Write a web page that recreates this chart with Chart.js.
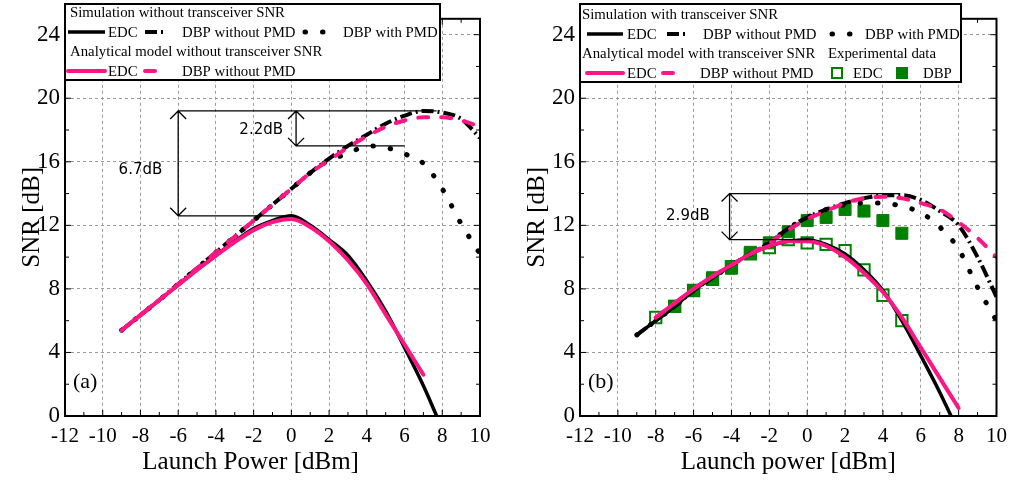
<!DOCTYPE html>
<html>
<head>
<meta charset="utf-8">
<script src="https://cdn.jsdelivr.net/npm/chart.js"></script>
<style>
  body { margin: 0; background: #fff; }
  #wrapA { position: absolute; left: 0; top: 0; width: 505px; height: 481px; }
  #wrapB { position: absolute; left: 505px; top: 0; width: 510px; height: 481px; }
</style>
</head>
<body>
<div id="wrapA"><canvas id="chartA" width="505" height="481"></canvas></div>
<div id="wrapB"><canvas id="chartB" width="510" height="481"></canvas></div>
<script>
// ---- (a) without transceiver SNR ----
const xEdcSimA = [-9, -8, -7, -6, -5, -4, -3, -2, -1, 0, 1, 2, 3, 4, 5, 6, 7, 7.7];
const yEdcSimA = [5.4, 6.35, 7.3, 8.25, 9.2, 10.1, 11.0, 11.8, 12.3, 12.6, 12.0, 11.1, 10.1, 8.5, 6.6, 4.3, 1.9, 0];
const xDbpSimA = [-9, -8, -7, -6, -5, -4, -3, -2, -1, 0, 1, 2, 3, 4, 5, 6, 7, 8, 9, 10];
const yDbpSimA = [5.4, 6.35, 7.3, 8.3, 9.3, 10.3, 11.3, 12.3, 13.3, 14.3, 15.3, 16.2, 17.0, 17.7, 18.4, 18.9, 19.2, 19.1, 18.7, 17.5];
const yDbpPmdSimA = [5.4, 6.35, 7.3, 8.3, 9.3, 10.3, 11.3, 12.3, 13.3, 14.3, 15.3, 16.1, 16.5, 17.0, 16.9, 16.5, 15.9, 14.3, 12.1, 10.2];
const xEdcModA = [-9, -8, -7, -6, -5, -4, -3, -2, -1, 0, 1, 2, 3, 4, 5, 6, 7];
const yEdcModA = [5.4, 6.35, 7.3, 8.25, 9.2, 10.1, 10.95, 11.7, 12.2, 12.4, 11.9, 11.0, 9.8, 8.3, 6.4, 4.5, 2.6];
const yDbpModA = [5.4, 6.35, 7.3, 8.3, 9.3, 10.3, 11.3, 12.3, 13.3, 14.3, 15.3, 16.1, 16.9, 17.6, 18.2, 18.6, 18.8, 18.8, 18.6, 18.2];

// ---- (b) with transceiver SNR ----
const xEdcSimB = [-9, -8, -7, -6, -5, -4, -3, -2, -1, 0, 1, 2, 3, 4, 5, 6, 7, 7.6];
const yEdcSimB = [5.1, 6.0, 6.9, 7.9, 8.7, 9.5, 10.2, 10.7, 11.0, 11.1, 10.8, 10.2, 9.2, 7.9, 6.0, 3.8, 1.5, 0];
const xDbpSimB = [-9, -8, -7, -6, -5, -4, -3, -2, -1, 0, 1, 2, 3, 4, 5, 6, 7, 8, 9, 10];
const yDbpSimB = [5.1, 6.0, 6.9, 7.9, 8.7, 9.5, 10.2, 10.9, 11.8, 12.5, 13.0, 13.4, 13.7, 13.9, 13.9, 13.6, 12.9, 12.0, 10.0, 7.5];
const yDbpPmdSimB = [5.1, 6.0, 6.9, 7.9, 8.7, 9.5, 10.2, 10.9, 11.8, 12.5, 13.0, 13.3, 13.4, 13.4, 13.2, 12.8, 11.9, 10.5, 8.1, 6.0];
const xEdcModB = [-8, -7, -6, -5, -4, -3, -2, -1, 0, 1, 2, 3, 4, 5, 6, 7, 8];
const yEdcModB = [6.2, 7.1, 8.0, 8.8, 9.5, 10.2, 10.7, 11.0, 11.0, 10.7, 10.0, 9.0, 7.8, 6.2, 4.3, 2.4, 0.5];
const xDbpModB = [-8, -7, -6, -5, -4, -3, -2, -1, 0, 1, 2, 3, 4, 5, 6, 7, 8, 9, 10];
const yDbpModB = [6.2, 7.1, 8.0, 8.8, 9.5, 10.2, 10.9, 11.7, 12.4, 12.9, 13.4, 13.7, 13.8, 13.7, 13.4, 13.0, 12.2, 11.2, 10.0];
const xExpEdc = [-8, -7, -6, -5, -4, -3, -2, -1, 0, 1, 2, 3, 4, 5];
const yExpEdc = [6.2, 6.9, 7.9, 8.6, 9.4, 10.2, 10.6, 11.1, 10.9, 10.8, 10.4, 9.2, 7.6, 6.0];
const xExpDbp = [-7, -6, -5, -4, -3, -2, -1, 0, 1, 2, 3, 4, 5];
const yExpDbp = [6.9, 7.9, 8.7, 9.3, 10.3, 10.9, 11.6, 12.3, 12.5, 13.0, 12.9, 12.3, 11.5];

// axes
const xTicks = [-12, -10, -8, -6, -4, -2, 0, 2, 4, 6, 8, 10];
const yTicks = [0, 4, 8, 12, 16, 20, 24];

// gap annotations: [x1, x2, y] lines, [x, yLow, yHigh] arrows, [x, y, text] labels
const gapLinesA = [[-6, 7.7, 19.2], [-6, 0, 12.6], [0.25, 6, 17.0]];
const gapArrowsA = [[-6, 12.6, 19.2], [0.25, 17.0, 19.2]];
const gapLabelsA = [[-8, 15.5, '6.7dB'], [-1.6, 18.0, '2.2dB']];
const gapLinesB = [[-4.1, 4.9, 14.0], [-4.1, 0.3, 11.1]];
const gapArrowsB = [[-4.1, 11.1, 14.0]];
const gapLabelsB = [[-6.3, 12.6, '2.9dB']];

const serif = '"Liberation Serif", "Times New Roman", serif';
const PINK = '#ff1685';
const GREEN = '#008000';

function pts(xs, ys) {
    return xs.map((x, i) => ({ x: x, y: ys[i] }));
}

function lineSet(label, xs, ys, color, width, dash, cap) {
    return {
        label: label,
        data: pts(xs, ys),
        showLine: true,
        borderColor: color,
        backgroundColor: color,
        borderWidth: width,
        borderDash: dash || [],
        borderCapStyle: cap || 'butt',
        pointRadius: 0,
        cubicInterpolationMode: 'monotone',
        fill: false
    };
}

// frame + inward ticks on all four sides
const framePlugin = {
    id: 'frame',
    afterDatasetsDraw(chart) {
        const ctx = chart.ctx, a = chart.chartArea;
        const x = chart.scales.x, y = chart.scales.y;
        ctx.save();
        ctx.strokeStyle = '#000';
        ctx.lineWidth = 1;
        ctx.beginPath();
        for (let v = -12; v <= 10; v++) {
            const px = x.getPixelForValue(v);
            const len = v % 2 === 0 ? 6 : 4;
            ctx.moveTo(px, a.bottom); ctx.lineTo(px, a.bottom - len);
            ctx.moveTo(px, a.top); ctx.lineTo(px, a.top + len);
        }
        for (let v = 0; v <= 24; v += 2) {
            const py = y.getPixelForValue(v);
            const len = v % 4 === 0 ? 6 : 4;
            ctx.moveTo(a.left, py); ctx.lineTo(a.left + len, py);
            ctx.moveTo(a.right, py); ctx.lineTo(a.right - len, py);
        }
        ctx.stroke();
        ctx.lineWidth = 2;
        ctx.strokeRect(a.left, a.top, a.right - a.left, a.bottom - a.top);
        ctx.restore();
    }
};

// double arrows, level lines and dB labels
const gapPlugin = {
    id: 'gaps',
    afterDatasetsDraw(chart, args, opts) {
        const ctx = chart.ctx;
        const x = chart.scales.x, y = chart.scales.y;
        ctx.save();
        ctx.strokeStyle = '#000';
        ctx.lineWidth = 1.3;
        ctx.beginPath();
        opts.lines.forEach(l => {
            ctx.moveTo(x.getPixelForValue(l[0]), y.getPixelForValue(l[2]));
            ctx.lineTo(x.getPixelForValue(l[1]), y.getPixelForValue(l[2]));
        });
        opts.arrows.forEach(r => {
            const px = x.getPixelForValue(r[0]);
            const p1 = y.getPixelForValue(r[1]), p2 = y.getPixelForValue(r[2]);
            ctx.moveTo(px, p1); ctx.lineTo(px, p2);
            ctx.moveTo(px - 8, p2 + 8); ctx.lineTo(px, p2); ctx.lineTo(px + 8, p2 + 8);
            ctx.moveTo(px - 8, p1 - 8); ctx.lineTo(px, p1); ctx.lineTo(px + 8, p1 - 8);
        });
        ctx.stroke();
        ctx.fillStyle = '#000';
        ctx.font = '15px "DejaVu Sans", sans-serif';
        ctx.textAlign = 'center';
        ctx.textBaseline = 'middle';
        opts.labels.forEach(t => {
            ctx.fillText(t[2], x.getPixelForValue(t[0]), y.getPixelForValue(t[1]));
        });
        ctx.font = '22px ' + serif;
        ctx.textAlign = 'left';
        ctx.fillText(opts.panel, chart.chartArea.left + 8, 382);
        ctx.restore();
    }
};

// boxed legend with samples taken from the datasets
const boxLegendPlugin = {
    id: 'boxLegend',
    afterDraw(chart, args, opts) {
        const ctx = chart.ctx;
        const b = opts.box;
        ctx.save();
        ctx.fillStyle = '#fff';
        ctx.fillRect(b[0], b[1], b[2], b[3]);
        ctx.strokeStyle = '#000';
        ctx.lineWidth = 2;
        ctx.strokeRect(b[0], b[1], b[2], b[3]);
        ctx.font = '14.8px ' + serif;
        ctx.textBaseline = 'middle';
        ctx.textAlign = 'left';
        opts.items.forEach(it => {
            if (it.text) {
                ctx.fillStyle = '#000';
                ctx.fillText(it.text, it.x, it.y);
            } else if (it.ds !== undefined) {
                const ds = chart.data.datasets[it.ds];
                if (ds.pointStyle === 'rect') {
                    const s = 10;
                    ctx.lineWidth = 2;
                    ctx.strokeStyle = ds.borderColor;
                    if (ds.backgroundColor !== 'transparent') {
                        ctx.fillStyle = ds.backgroundColor;
                        ctx.fillRect(it.x - s / 2, it.y - s / 2, s, s);
                    }
                    ctx.strokeRect(it.x - s / 2, it.y - s / 2, s, s);
                } else {
                    ctx.strokeStyle = ds.borderColor;
                    ctx.lineWidth = ds.borderWidth;
                    ctx.lineCap = ds.borderCapStyle;
                    ctx.setLineDash(ds.borderDash);
                    ctx.beginPath();
                    ctx.moveTo(it.x, it.y);
                    ctx.lineTo(it.x2, it.y);
                    ctx.stroke();
                    ctx.setLineDash([]);
                }
            }
        });
        ctx.restore();
    }
};

function makeChart(id, datasets, xTitle, padLeft, yWidth, padRight, legend, gaps) {
    return new Chart(document.getElementById(id), {
        type: 'scatter',
        data: { datasets: datasets },
        plugins: [framePlugin, gapPlugin, boxLegendPlugin],
        options: {
            responsive: false,
            animation: false,
            layout: { padding: { left: padLeft, right: padRight, top: 2, bottom: 0 } },
            plugins: {
                legend: { display: false },
                tooltip: { enabled: false },
                boxLegend: legend,
                gaps: gaps
            },
            scales: {
                x: {
                    type: 'linear', min: -12, max: 10,
                    afterBuildTicks: s => { s.ticks = xTicks.map(v => ({ value: v })); },
                    afterFit: s => { s.height = 65; },
                    grid: { color: '#9a9a9a', lineWidth: 1, drawTicks: false },
                    border: { display: false, dash: [3, 3] },
                    ticks: { color: '#000', padding: 8, maxRotation: 0, font: { family: serif, size: 21 } },
                    title: { display: true, text: xTitle, color: '#000', padding: { top: 0, bottom: 4 }, font: { family: serif, size: 25 } }
                },
                y: {
                    type: 'linear', min: 0, max: 25,
                    afterBuildTicks: s => { s.ticks = yTicks.map(v => ({ value: v })); },
                    afterFit: s => { s.width = yWidth; },
                    grid: { color: '#9a9a9a', lineWidth: 1, drawTicks: false },
                    border: { display: false, dash: [3, 3] },
                    ticks: { color: '#000', padding: 5, font: { family: serif, size: 23 } },
                    title: { display: true, text: 'SNR [dB]', color: '#000', padding: 3, font: { family: serif, size: 25 } }
                }
            }
        }
    });
}

const dashDot = [12, 4, 2, 4];
const dotted = [0.5, 17];
const pinkDash = [10, 13];

// trailing spaces nudge the centred title left, as in the original panel (a)
makeChart('chartA', [
    lineSet('EDC model', xEdcModA, yEdcModA, PINK, 4, [], 'round'),
    lineSet('DBP without PMD model', xDbpSimA, yDbpModA, PINK, 4, pinkDash, 'round'),
    lineSet('EDC', xEdcSimA, yEdcSimA, '#000', 3.5),
    lineSet('DBP without PMD', xDbpSimA, yDbpSimA, '#000', 4, dashDot),
    lineSet('DBP with PMD', xDbpSimA, yDbpPmdSimA, '#000', 5, dotted, 'round')
], 'Launch Power [dBm]       ', 14, 51, 25, {
    box: [65, 4, 375, 76],
    items: [
        { text: 'Simulation without transceiver SNR', x: 70, y: 13 },
        { ds: 2, x: 68, x2: 105, y: 32 },
        { text: 'EDC', x: 108, y: 33 },
        { ds: 3, x: 145, x2: 167, y: 32 },
        { text: 'DBP without PMD', x: 182, y: 33 },
        { ds: 4, x: 305, x2: 330, y: 32 },
        { text: 'DBP with PMD', x: 343, y: 33 },
        { text: 'Analytical model without transceiver SNR', x: 70, y: 52 },
        { ds: 0, x: 68, x2: 105, y: 71 },
        { text: 'EDC', x: 108, y: 72 },
        { ds: 1, x: 145, x2: 167, y: 71 },
        { text: 'DBP without PMD', x: 182, y: 72 }
    ]
}, { lines: gapLinesA, arrows: gapArrowsA, labels: gapLabelsA, panel: '(a)' });

makeChart('chartB', [
    lineSet('EDC model', xEdcModB, yEdcModB, PINK, 4, [], 'round'),
    lineSet('DBP without PMD model', xDbpModB, yDbpModB, PINK, 4, pinkDash, 'round'),
    lineSet('EDC', xEdcSimB, yEdcSimB, '#000', 3.5),
    lineSet('DBP without PMD', xDbpSimB, yDbpSimB, '#000', 4, dashDot),
    lineSet('DBP with PMD', xDbpSimB, yDbpPmdSimB, '#000', 5, dotted, 'round'),
    { label: 'Exp DBP', data: pts(xExpDbp, yExpDbp), pointStyle: 'rect', pointRadius: 8.5,
      backgroundColor: GREEN, borderColor: GREEN, borderWidth: 1 },
    { label: 'Exp EDC', data: pts(xExpEdc, yExpEdc), pointStyle: 'rect', pointRadius: 8,
      backgroundColor: 'transparent', borderColor: GREEN, borderWidth: 2 }
], 'Launch power [dBm]', 14, 61, 15, {
    box: [75, 4, 381, 78],
    items: [
        { text: 'Simulation with transceiver SNR', x: 77, y: 15 },
        { ds: 2, x: 82, x2: 118, y: 34 },
        { text: 'EDC', x: 122, y: 35 },
        { ds: 3, x: 162, x2: 182, y: 34 },
        { text: 'DBP without PMD', x: 198, y: 35 },
        { ds: 4, x: 327, x2: 350, y: 34 },
        { text: 'DBP with PMD', x: 360, y: 35 },
        { text: 'Analytical model with transceiver SNR', x: 77, y: 54 },
        { text: 'Experimental data', x: 323, y: 54 },
        { ds: 0, x: 82, x2: 118, y: 73 },
        { text: 'EDC', x: 122, y: 74 },
        { ds: 1, x: 158, x2: 180, y: 73 },
        { text: 'DBP without PMD', x: 195, y: 74 },
        { ds: 6, x: 332, y: 73 },
        { text: 'EDC', x: 348, y: 74 },
        { ds: 5, x: 397, y: 73 },
        { text: 'DBP', x: 418, y: 74 }
    ]
}, { lines: gapLinesB, arrows: gapArrowsB, labels: gapLabelsB, panel: '(b)' });
</script>
</body>
</html>
